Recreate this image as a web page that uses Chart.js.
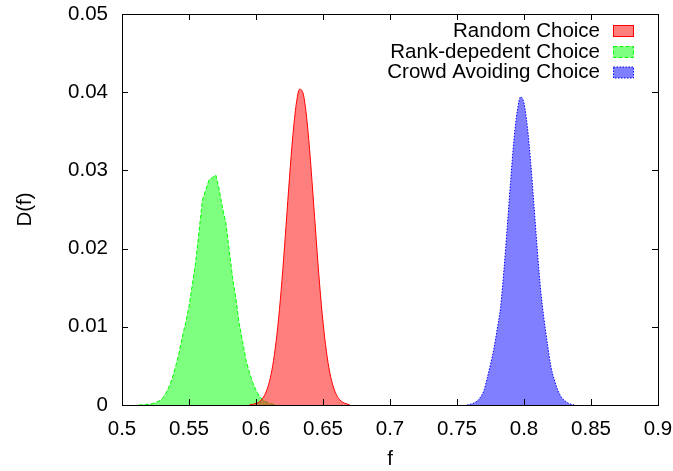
<!DOCTYPE html>
<html>
<head>
<meta charset="utf-8">
<script src="https://cdn.jsdelivr.net/npm/chart.js@4.4.1/dist/chart.umd.min.js"></script>
<style>
  html, body { margin: 0; padding: 0; background: #fff; }
  #chart { display: block; }
</style>
</head>
<body>
<canvas id="chart" width="673" height="471"></canvas>
<script>
// axis ticks
const xTicks = [0.5, 0.55, 0.6, 0.65, 0.7, 0.75, 0.8, 0.85, 0.9];
const xTickLabels = ['0.5', '0.55', '0.6', '0.65', '0.7', '0.75', '0.8', '0.85', '0.9'];
const yTicks = [0, 0.01, 0.02, 0.03, 0.04, 0.05];
const yTickLabels = ['0', '0.01', '0.02', '0.03', '0.04', '0.05'];

const seriesNames = ['Random Choice', 'Rank-depedent Choice', 'Crowd Avoiding Choice'];

// Random Choice
const randomF = [0.595, 0.5975, 0.600, 0.6025, 0.605, 0.6075, 0.610, 0.6125,
  0.615, 0.6175, 0.620, 0.6225, 0.625, 0.6275, 0.630, 0.6325, 0.635, 0.6375,
  0.640, 0.6425, 0.645, 0.6475, 0.650, 0.6525, 0.655, 0.6575, 0.660, 0.6625,
  0.665, 0.6675, 0.670];
const randomD = [0, 0.00009, 0.0002, 0.00042, 0.00086, 0.00165, 0.00298, 0.00506,
  0.0081, 0.0122, 0.01731, 0.02312, 0.02909, 0.03445, 0.03844, 0.04038, 0.03994, 0.03721,
  0.03264, 0.02697, 0.02098, 0.01537, 0.0106, 0.00689, 0.00421, 0.00243, 0.00132, 0.00067,
  0.00032, 0.00015, 0];

// Rank-dependent Choice
const rankF = [0.5125, 0.515, 0.5175, 0.520, 0.5225, 0.525, 0.5275, 0.530, 0.5325, 0.535,
  0.5375, 0.540, 0.5425, 0.545, 0.5475, 0.550, 0.5525, 0.555, 0.5575, 0.560,
  0.5625, 0.565, 0.5675, 0.570, 0.5725, 0.575, 0.5775, 0.580, 0.5825, 0.585,
  0.5875, 0.590, 0.5925, 0.595, 0.5975, 0.600, 0.6025, 0.605, 0.6075, 0.610,
  0.6125, 0.615];
const rankD = [0, 0.00003, 0.00005, 0.00009, 0.00016, 0.0003, 0.0005, 0.0008, 0.0014, 0.0023,
  0.0034, 0.0049, 0.0066, 0.0087, 0.0105, 0.0126, 0.0154, 0.0183, 0.0222, 0.0262,
  0.0275, 0.0288, 0.0291, 0.0294, 0.0276, 0.0252, 0.0233, 0.0198, 0.0163, 0.0136,
  0.0104, 0.0081, 0.0058, 0.0042, 0.0029, 0.0019, 0.0011, 0.0007, 0.0004, 0.0002,
  0.0001, 0];

// Crowd Avoiding Choice
const crowdF = [0.7575, 0.760, 0.7625, 0.765, 0.7675, 0.770, 0.7725, 0.775, 0.7775, 0.780,
  0.7825, 0.785, 0.7875, 0.790, 0.7925, 0.795, 0.7975, 0.800, 0.8025, 0.805,
  0.8075, 0.810, 0.8125, 0.815, 0.8175, 0.820, 0.8225, 0.825, 0.8275, 0.830,
  0.8325, 0.835, 0.8375];
const crowdD = [0, 0.0001, 0.00025, 0.0005, 0.001, 0.0018, 0.0034, 0.0052, 0.0072, 0.0097,
  0.0125, 0.0172, 0.0228, 0.0286, 0.0339, 0.0376, 0.0394, 0.0386, 0.0356, 0.031,
  0.0254, 0.0197, 0.0146, 0.0109, 0.0078, 0.005, 0.0033, 0.002, 0.0011, 0.0006,
  0.0003, 0.0001, 0];

const FONT = '"Liberation Sans", Arial, Helvetica, sans-serif';
const FS = 20.5;

const styles = [
  { line: '#ff0000', fill: 'rgba(255,0,0,0.5)', dash: [] },
  { line: '#00ff00', fill: 'rgba(0,255,0,0.5)', dash: [4, 2] },
  { line: '#0000ff', fill: 'rgba(0,0,255,0.5)', dash: [1.5, 1.5] }
];

const toPoints = (fs, ds) => fs.map((f, i) => ({ x: f, y: ds[i] }));

function makeSet(i, fs, ds, smooth) {
  return {
    label: seriesNames[i],
    data: toPoints(fs, ds),
    borderColor: styles[i].line,
    backgroundColor: styles[i].fill,
    borderDash: styles[i].dash,
    borderWidth: 1,
    pointRadius: 0,
    fill: 'origin',
    cubicInterpolationMode: smooth ? 'monotone' : 'default',
    tension: 0
  };
}

// gnuplot style frame, inward ticks and key
const framePlugin = {
  id: 'frame',
  afterDatasetsDraw(chart) {
    const { ctx, chartArea: a, scales } = chart;
    ctx.save();
    ctx.strokeStyle = '#000';
    ctx.lineWidth = 1;
    ctx.setLineDash([]);
    ctx.strokeRect(Math.round(a.left) + 0.5, Math.round(a.top) + 0.5,
      Math.round(a.right - a.left), Math.round(a.bottom - a.top));
    const tl = 6;
    ctx.beginPath();
    xTicks.forEach(v => {
      const px = Math.round(scales.x.getPixelForValue(v)) + 0.5;
      ctx.moveTo(px, a.bottom); ctx.lineTo(px, a.bottom - tl);
      ctx.moveTo(px, a.top); ctx.lineTo(px, a.top + tl);
    });
    yTicks.forEach(v => {
      const py = Math.round(scales.y.getPixelForValue(v)) + 0.5;
      ctx.moveTo(a.left, py); ctx.lineTo(a.left + tl, py);
      ctx.moveTo(a.right, py); ctx.lineTo(a.right - tl, py);
    });
    ctx.stroke();

    // key
    ctx.font = FS + 'px ' + FONT;
    ctx.textAlign = 'right';
    ctx.textBaseline = 'middle';
    const rows = [31, 52, 72.5];
    chart.data.datasets.forEach((ds, i) => {
      const y = rows[i];
      ctx.fillStyle = '#000';
      ctx.fillText(ds.label, 600, y);
      ctx.fillStyle = ds.backgroundColor;
      ctx.fillRect(613.5, y - 5.5, 20, 11);
      ctx.strokeStyle = ds.borderColor;
      ctx.setLineDash(ds.borderDash);
      ctx.strokeRect(613.5, y - 5.5, 20, 11);
    });
    ctx.restore();
  }
};

new Chart(document.getElementById('chart'), {
  type: 'line',
  data: {
    datasets: [
      makeSet(0, randomF, randomD, true),
      makeSet(1, rankF, rankD, false),
      makeSet(2, crowdF, crowdD, true)
    ]
  },
  options: {
    responsive: false,
    animation: false,
    devicePixelRatio: 1,
    layout: { padding: { top: 14, right: 15, left: 0, bottom: 0 } },
    plugins: { legend: { display: false }, tooltip: { enabled: false } },
    scales: {
      x: {
        type: 'linear',
        min: 0.5,
        max: 0.9,
        afterBuildTicks: s => { s.ticks = xTicks.map(v => ({ value: v })); },
        afterFit: s => { s.height = 66; s.paddingLeft = 0; s.paddingRight = 0; },
        grid: { display: false, drawTicks: false },
        border: { display: false },
        ticks: {
          color: '#000',
          font: { family: FONT, size: FS },
          padding: 12,
          maxRotation: 0,
          autoSkip: false,
          callback: (v, i) => xTickLabels[i]
        },
        title: {
          display: true,
          text: 'f',
          color: '#000',
          font: { family: FONT, size: FS, lineHeight: 1.2 },
          padding: { top: 0, bottom: -1 }
        }
      },
      y: {
        type: 'linear',
        min: 0,
        max: 0.05,
        afterBuildTicks: s => { s.ticks = yTicks.map(v => ({ value: v })); },
        afterFit: s => { s.width = 122; s.paddingTop = 0; s.paddingBottom = 0; },
        grid: { display: false, drawTicks: false },
        border: { display: false },
        ticks: {
          color: '#000',
          font: { family: FONT, size: FS },
          padding: 14,
          autoSkip: false,
          callback: (v, i) => yTickLabels[i]
        },
        title: {
          display: true,
          text: 'D(f)',
          color: '#000',
          font: { family: FONT, size: FS, lineHeight: 1.2 },
          padding: { top: 13, bottom: 0 }
        }
      }
    }
  },
  plugins: [framePlugin]
});
</script>
</body>
</html>
